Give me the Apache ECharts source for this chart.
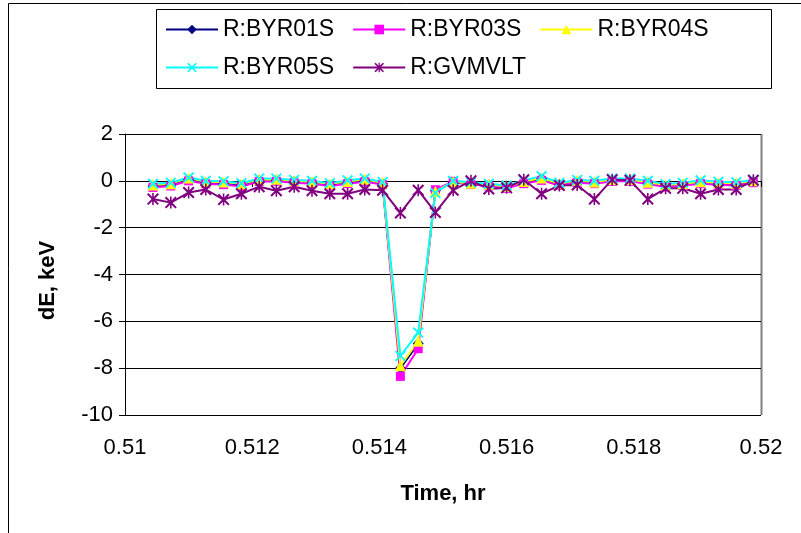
<!DOCTYPE html>
<html>
<head>
<meta charset="utf-8">
<script src="https://cdn.jsdelivr.net/npm/echarts@6/dist/echarts.min.js"></script>
<style>
  html, body { margin: 0; padding: 0; background: #fff; }
  #chart { width: 801px; height: 533px; }
</style>
</head>
<body>
<div id="chart"></div>
<script>
// Sample times, hr (one sample per second)
const times = [0.51044, 0.51072, 0.51100, 0.51127, 0.51155, 0.51183, 0.51211, 0.51238, 0.51266, 0.51294,
  0.51322, 0.51350, 0.51377, 0.51405, 0.51433, 0.51461, 0.51488, 0.51516, 0.51544, 0.51572,
  0.51600, 0.51627, 0.51655, 0.51683, 0.51711, 0.51738, 0.51766, 0.51794, 0.51822, 0.51850,
  0.51877, 0.51905, 0.51933, 0.51961, 0.51988];

// Energy deviation, keV
const byr01s = [-0.22, -0.17, 0.06, -0.08, -0.12, -0.18, 0.02, 0.03, -0.03, -0.08, -0.18, -0.08, 0.02, -0.12,
  -8.0, -6.95, -0.42, -0.08, -0.12, -0.18, -0.27, -0.08, 0.10, -0.17, -0.03, -0.08, 0.02, 0.03, -0.08, -0.22,
  -0.17, -0.08, -0.13, -0.14, -0.03];
const byr03s = [-0.28, -0.22, 0.00, -0.13, -0.16, -0.24, -0.03, -0.02, -0.08, -0.12, -0.22, -0.12, -0.04, -0.16,
  -8.35, -7.17, -0.38, -0.02, -0.16, -0.22, -0.32, -0.12, 0.02, -0.20, -0.08, -0.12, -0.02, -0.02, -0.14, -0.26,
  -0.20, -0.12, -0.17, -0.20, -0.08];
const byr04s = [-0.18, -0.12, 0.12, -0.04, -0.05, -0.13, 0.06, 0.07, 0.00, -0.04, -0.13, -0.03, 0.07, -0.08,
  -7.9, -6.85, -0.45, -0.04, -0.10, -0.15, -0.24, -0.03, 0.12, -0.12, 0.02, -0.05, 0.06, 0.06, -0.06, -0.18,
  -0.12, -0.04, -0.08, -0.10, 0.00];
const byr05s = [-0.12, -0.08, 0.14, 0.00, -0.02, -0.10, 0.10, 0.10, 0.04, 0.00, -0.10, 0.02, 0.10, -0.05,
  -7.48, -6.48, -0.52, 0.00, -0.06, -0.12, -0.20, 0.02, 0.20, -0.08, 0.04, 0.00, 0.10, 0.10, 0.00, -0.14,
  -0.08, 0.02, -0.04, -0.06, 0.04];
const gvmvlt = [-0.78, -0.93, -0.50, -0.37, -0.80, -0.55, -0.25, -0.42, -0.25, -0.42, -0.55, -0.55, -0.37, -0.40,
  -1.37, -0.40, -1.35, -0.40, 0.00, -0.35, -0.30, 0.05, -0.55, -0.20, -0.18, -0.78, 0.05, 0.02, -0.78, -0.32,
  -0.32, -0.55, -0.37, -0.37, 0.02];

const seriesNames = ['R:BYR01S', 'R:BYR03S', 'R:BYR04S', 'R:BYR05S', 'R:GVMVLT'];
const seriesValues = [byr01s, byr03s, byr04s, byr05s, gvmvlt];

const FONT = '"Liberation Sans", Arial, sans-serif';

// Marker shapes: filled X cross and six-armed asterisk
const crossPath = 'path://M0,1.2 L1.2,0 L5,3.8 L8.8,0 L10,1.2 L6.2,5 L10,8.8 L8.8,10 L5,6.2 L1.2,10 L0,8.8 L3.8,5 Z';
const starPath = 'path://M0,1.2 L1.2,0 L5,3.8 L8.8,0 L10,1.2 L6.2,5 L10,8.8 L8.8,10 L5,6.2 L1.2,10 L0,8.8 L3.8,5 Z M4.35,0 L5.65,0 L5.65,10 L4.35,10 Z';

const styles = [
  { color: '#000080', symbol: 'diamond', size: 11 },
  { color: '#ff00ff', symbol: 'rect', size: 9 },
  { color: '#ffff00', symbol: 'triangle', size: 11 },
  { color: '#00ffff', symbol: crossPath, size: 11 },
  { color: '#800080', symbol: starPath, size: 12 }
];

const series = seriesNames.map((name, k) => ({
  name: name,
  type: 'line',
  data: times.map((t, i) => [t, seriesValues[k][i]]),
  symbol: styles[k].symbol,
  symbolSize: styles[k].size,
  showSymbol: true,
  lineStyle: { color: styles[k].color, width: 2 },
  itemStyle: { color: styles[k].color },
  emphasis: { disabled: true },
  animation: false
}));

const legendCommon = {
  left: 165,
  itemWidth: 52,
  itemHeight: 12,
  itemGap: 18,
  orient: 'horizontal',
  selectedMode: false,
  textStyle: { fontFamily: FONT, fontSize: 23, color: '#000' },
  padding: 0
};

const chart = echarts.init(document.getElementById('chart'), null, { renderer: 'canvas' });
chart.setOption({
  backgroundColor: '#fff',
  animation: false,
  legend: [
    Object.assign({}, legendCommon, { top: 18, data: seriesNames.slice(0, 3) }),
    Object.assign({}, legendCommon, { top: 56, data: seriesNames.slice(3) })
  ],
  grid: { left: 125, right: 40, top: 134, bottom: 118, containLabel: false },
  xAxis: {
    type: 'value',
    min: 0.51,
    max: 0.52,
    interval: 0.002,
    name: 'Time, hr',
    nameLocation: 'middle',
    nameGap: 68,
    nameTextStyle: { fontFamily: FONT, fontSize: 22, fontWeight: 'bold', color: '#000' },
    axisLine: { show: true, lineStyle: { color: '#000', width: 1 } },
    axisTick: { show: true, inside: false, length: 6, lineStyle: { color: '#000' } },
    axisLabel: {
      margin: 22,
      fontFamily: FONT, fontSize: 22, color: '#000',
      formatter: v => String(parseFloat(v.toFixed(3)))
    },
    splitLine: { show: false }
  },
  yAxis: {
    type: 'value',
    min: -10,
    max: 2,
    interval: 2,
    name: 'dE, keV',
    nameLocation: 'middle',
    nameGap: 66,
    nameTextStyle: { fontFamily: FONT, fontSize: 22, fontWeight: 'bold', color: '#000', padding: [0, 0, 0, -12] },
    axisLine: { show: true, onZero: false, lineStyle: { color: '#000', width: 1 } },
    axisTick: { show: true, inside: false, length: 6, lineStyle: { color: '#000' } },
    axisLabel: { margin: 12, fontFamily: FONT, fontSize: 22, color: '#000' },
    splitLine: { show: true, lineStyle: { color: '#000', width: 1 } }
  },
  graphic: [
    // outer chart frame
    { type: 'rect', shape: { x: 8.5, y: 3.5, width: 820, height: 560 }, style: { fill: 'none', stroke: '#000', lineWidth: 1 }, silent: true },
    // legend box
    { type: 'rect', shape: { x: 156.5, y: 9.5, width: 615, height: 79 }, style: { fill: 'none', stroke: '#000', lineWidth: 1 }, silent: true },
    // plot area right edge
    { type: 'line', shape: { x1: 761.5, y1: 134, x2: 761.5, y2: 415 }, style: { stroke: '#808080', lineWidth: 2 }, silent: true }
  ],
  series: series
});
</script>
</body>
</html>
